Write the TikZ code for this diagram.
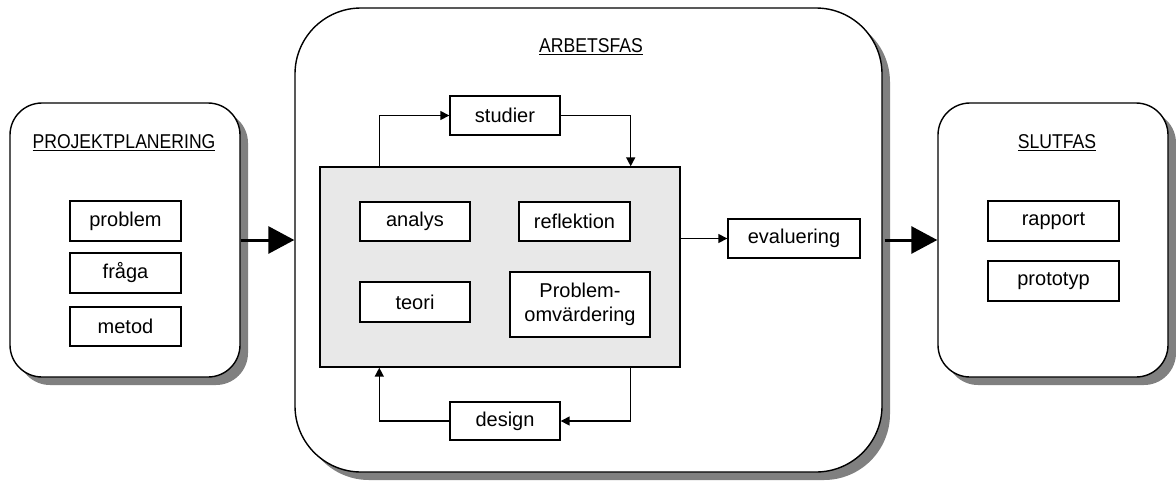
\documentclass[tikz,border=0pt]{standalone}
\usepackage{fontspec}
\setmainfont{Liberation Sans}
\newfontfamily\headfont[FakeStretch=0.88]{Liberation Sans}
\usetikzlibrary{arrows.meta,shadows,calc}
\definecolor{shadowgray}{HTML}{808080}
\definecolor{workfill}{HTML}{E8E8E8}
\tikzset{
  phasebox/.style={draw=black, line width=1.4pt, fill=white, rounded corners=#1,
    drop shadow={shadow xshift=8pt, shadow yshift=-8pt, fill=shadowgray, opacity=1}},
  itembox/.style={draw=black, line width=1.4pt, fill=white, inner sep=0pt,
    font=\fontsize{20}{24}\selectfont, align=center},
  phasetitle/.style={inner sep=0pt, font=\headfont\fontsize{20}{24}\selectfont},
  flow/.style={line width=1.5pt, -{Triangle[length=9pt,width=9pt]}},
  phasearrow/.style={line width=3pt, -{Triangle[length=26pt,width=27pt]}}
}
\begin{document}
\begin{tikzpicture}[x=1pt, y=-1pt]
\useasboundingbox (0,0) rectangle (1176,483);

% phase containers
\node[phasebox=32pt, minimum width=230pt, minimum height=274pt] (plan) at (125,240) {};
\node[phasebox=66pt, minimum width=587pt, minimum height=464pt] (work) at (588.5,240) {};
\node[phasebox=32pt, minimum width=230pt, minimum height=274pt] (final) at (1053,240) {};

% phase titles
\node[phasetitle] (plantitle) at (124,143) {\underline{PROJEKTPLANERING}};
\node[phasetitle] (worktitle) at (591,47) {\underline{ARBETSFAS}};
\node[phasetitle] (finaltitle) at (1057,143) {\underline{SLUTFAS}};

% planning items
\node[itembox, minimum width=111pt, minimum height=40pt] (problem) at (125.5,221) {problem};
\node[itembox, minimum width=111pt, minimum height=40pt] (fraga) at (125.5,273) {fråga};
\node[itembox, minimum width=111pt, minimum height=39pt] (metod) at (125.5,326.5) {metod};

% final items
\node[itembox, minimum width=131pt, minimum height=40pt] (rapport) at (1053.5,221) {rapport};
\node[itembox, minimum width=131pt, minimum height=40pt] (prototyp) at (1053.5,281) {prototyp};

% working area
\node[draw=black, line width=1.4pt, fill=workfill, minimum width=360pt, minimum height=200pt, inner sep=0pt] (core) at (500,267) {};
\node[itembox, minimum width=110pt, minimum height=39pt] (analys) at (415,221.5) {analys};
\node[itembox, minimum width=111pt, minimum height=39pt] (reflektion) at (574.5,221.5) {reflektion};
\node[itembox, minimum width=110pt, minimum height=40pt] (teori) at (415,302) {teori};
\node[itembox, minimum width=140pt, minimum height=65pt] (omv) at (580,304.5) {Problem-\\omvärdering};

\node[itembox, minimum width=110pt, minimum height=39pt] (studier) at (505,115.5) {studier};
\node[itembox, minimum width=110pt, minimum height=38pt] (design) at (505,421) {design};
\node[itembox, minimum width=132pt, minimum height=39pt] (evaluering) at (794,238.5) {evaluering};

% loops around the working area
\draw[flow] ([xshift=60pt]core.north west) |- (studier.west);
\draw[flow] (studier.east) -| ([xshift=-50pt]core.north east);
\draw[flow] ([xshift=-50pt]core.south east) |- (design.east);
\draw[flow] (design.west) -| ([xshift=60pt]core.south west);
\draw[flow] (core.east |- evaluering.west) -- (evaluering.west);

% transitions between phases
\draw[phasearrow] (plan.east) -- (work.west);
\draw[phasearrow] ([xshift=2pt]work.east) -- (final.west);
\end{tikzpicture}
\end{document}
